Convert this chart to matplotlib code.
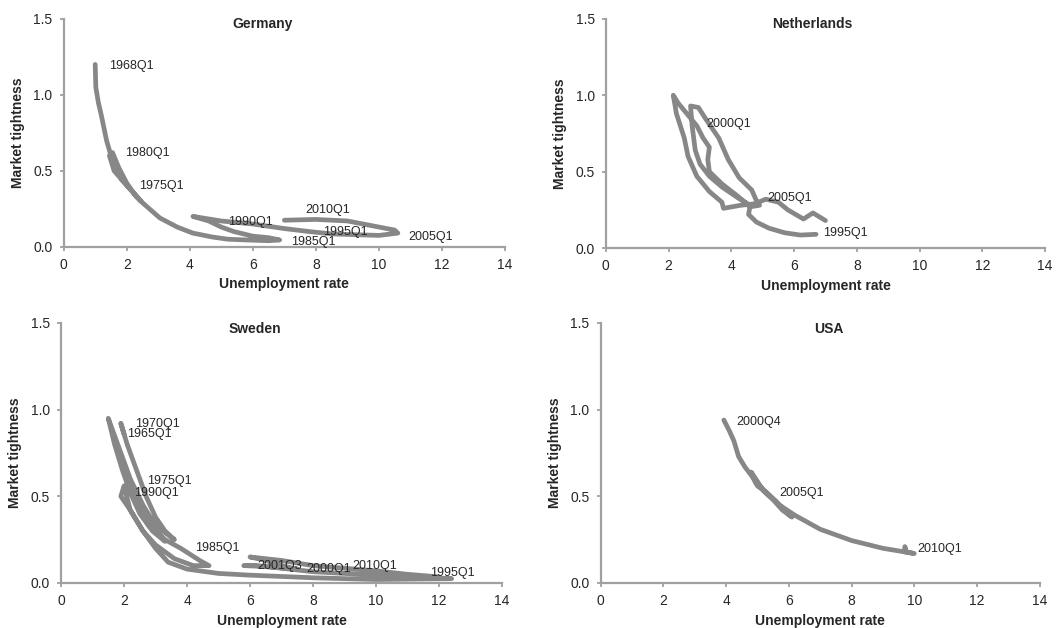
import numpy as np
import matplotlib.pyplot as plt

plt.rcParams['font.family'] = ['Liberation Sans', 'DejaVu Sans']

# unemployment rate (u) and market tightness (v)
de_u = [1.0, 1.02, 1.1, 1.2, 1.36, 1.5, 1.7, 1.85, 2.15, 2.45, 2.3, 2.0, 1.75, 1.55, 1.45,
        1.6, 1.85, 2.15, 2.5, 3.05, 3.6, 4.1, 4.7, 5.2, 5.8, 6.5, 6.85, 6.5, 6.0, 5.4, 5.0, 4.6, 4.1,
        5.0, 6.0, 7.0, 7.8, 8.5, 9.2, 10.0, 10.6, 10.5, 10.0, 9.0, 8.0, 7.0]
de_v = [1.2, 1.05, 0.95, 0.86, 0.7, 0.6, 0.5, 0.44, 0.37, 0.3, 0.33, 0.42, 0.52, 0.62, 0.6,
        0.5, 0.44, 0.37, 0.29, 0.19, 0.13, 0.09, 0.065, 0.05, 0.045, 0.04, 0.045, 0.06, 0.07, 0.1,
        0.13, 0.17, 0.2,
        0.17, 0.15, 0.12, 0.1, 0.085, 0.08, 0.075, 0.09, 0.11, 0.13, 0.17, 0.18, 0.175]

nl_u = [6.7, 6.2, 5.7, 5.2, 4.8, 4.55, 4.6, 4.2, 3.7, 3.3, 3.0, 2.85, 2.75, 2.7, 2.95, 3.2,
        3.6, 3.9, 4.25, 4.65, 4.8, 4.9, 4.6, 4.2, 3.7, 3.3, 3.25, 3.3, 3.1, 2.9, 2.7, 2.5, 2.3,
        2.15, 2.25, 2.5, 2.62, 2.9, 3.3, 3.7, 3.75, 4.3, 4.75, 5.1, 5.5, 5.8, 6.3, 6.6, 7.0]
nl_v = [0.09, 0.085, 0.1, 0.13, 0.17, 0.22, 0.28, 0.33, 0.4, 0.47, 0.55, 0.64, 0.8, 0.93, 0.92, 0.84,
        0.72, 0.58, 0.46, 0.38, 0.31, 0.28, 0.27, 0.34, 0.42, 0.5, 0.58, 0.66, 0.72, 0.8, 0.85, 0.9, 0.95,
        1.0, 0.88, 0.72, 0.6, 0.47, 0.37, 0.3, 0.26, 0.28, 0.29, 0.32, 0.3, 0.25, 0.19, 0.23, 0.18]

se_u = [2.0, 1.9, 2.1, 2.4, 2.7, 3.0, 3.3, 3.6, 3.0, 2.6, 2.2, 1.9, 1.7, 1.5,
        1.7, 1.95, 2.2, 2.5, 2.9, 3.3, 2.8, 2.4, 2.1,
        2.4, 2.8, 3.3, 3.8, 4.4, 4.7, 4.2, 3.6, 3.0, 2.6, 2.2, 1.9, 2.0,
        2.2, 2.6, 3.0, 3.4, 4.0, 5.0, 6.0, 8.0, 10.0, 12.4,
        11.0, 10.0, 9.0, 8.0, 7.0, 6.2, 5.8, 6.5, 7.5, 7.0, 6.5, 6.0,
        7.0, 8.0, 9.0, 10.0, 11.0, 12.0]
se_v = [0.86, 0.92, 0.8, 0.65, 0.5, 0.38, 0.3, 0.25, 0.33, 0.45, 0.6, 0.75, 0.85, 0.95,
        0.8, 0.65, 0.52, 0.4, 0.3, 0.24, 0.35, 0.48, 0.58,
        0.45, 0.33, 0.25, 0.2, 0.13, 0.1, 0.1, 0.14, 0.22, 0.3, 0.42, 0.5, 0.56,
        0.42, 0.3, 0.2, 0.12, 0.08, 0.055, 0.045, 0.03, 0.02, 0.025,
        0.035, 0.045, 0.055, 0.065, 0.085, 0.1, 0.1, 0.095, 0.08, 0.1, 0.13, 0.15,
        0.13, 0.1, 0.085, 0.07, 0.05, 0.035]

us_u = [3.93, 4.1, 4.25, 4.4, 4.6, 4.85, 5.0, 5.3, 5.6, 5.8, 6.1, 5.8, 5.5, 5.2, 4.95, 4.8,
        4.95, 5.3, 5.7, 6.2, 7.0, 8.0, 9.0, 10.0, 9.7, 9.7, 9.75]
us_v = [0.94, 0.88, 0.82, 0.73, 0.67, 0.61, 0.56, 0.52, 0.47, 0.43, 0.38, 0.42, 0.48, 0.53, 0.6, 0.64,
        0.58, 0.52, 0.45, 0.39, 0.31, 0.245, 0.2, 0.17, 0.18, 0.21, 0.18]

de_labels = [('1968Q1', 1.45, 1.19), ('1980Q1', 1.96, 0.62), ('1975Q1', 2.38, 0.40),
             ('1990Q1', 5.2, 0.16), ('2010Q1', 7.67, 0.24), ('1995Q1', 8.22, 0.10),
             ('1985Q1', 7.2, 0.03), ('2005Q1', 10.93, 0.065)]
nl_labels = [('2000Q1', 3.21, 0.81), ('2005Q1', 5.14, 0.33), ('1995Q1', 6.93, 0.10)]
se_labels = [('1970Q1', 2.36, 0.92), ('1965Q1', 2.1, 0.86), ('1975Q1', 2.73, 0.59),
             ('1990Q1', 2.33, 0.52), ('1985Q1', 4.24, 0.20), ('2001Q3', 6.24, 0.10),
             ('2000Q1', 7.79, 0.083), ('2010Q1', 9.24, 0.10), ('1995Q1', 11.7, 0.058)]
us_labels = [('2000Q4', 4.33, 0.93), ('2005Q1', 5.69, 0.52), ('2010Q1', 10.1, 0.196)]

panels = [
    ('Germany', de_u, de_v, de_labels, [0.060, 0.607, 0.416, 0.363], 0.45),
    ('Netherlands', nl_u, nl_v, nl_labels, [0.571, 0.605, 0.414, 0.365], 0.47),
    ('Sweden', se_u, se_v, se_labels, [0.0575, 0.0717, 0.4157, 0.414], 0.44),
    ('USA', us_u, us_v, us_labels, [0.566, 0.0717, 0.414, 0.414], 0.52),
]

line_col = '#878787'
axis_col = '#a0a0a0'
text_col = '#262626'

fig = plt.figure(figsize=(10.61, 6.28), dpi=100)

for title, u, v, labels, pos, tx in panels:
    ax = fig.add_axes(pos)
    ax.plot(u, v, color=line_col, lw=3.4, solid_capstyle='round',
            solid_joinstyle='round', clip_on=False)
    for txt, x, y in labels:
        ax.text(x, y, txt, fontsize=9, color=text_col, ha='left', va='center')
    ax.set_xlim(0, 14)
    ax.set_ylim(0, 1.5)
    ax.set_xticks(np.arange(0, 15, 2))
    ax.set_yticks([0.0, 0.5, 1.0, 1.5])
    ax.set_yticklabels(['0.0', '0.5', '1.0', '1.5'])
    for s in ['top', 'right']:
        ax.spines[s].set_visible(False)
    for s in ['left', 'bottom']:
        ax.spines[s].set_color(axis_col)
        ax.spines[s].set_linewidth(1.6)
    ax.tick_params(colors=axis_col, labelcolor=text_col, labelsize=10,
                   length=3, width=1.3, direction='out', pad=5)
    ax.set_xlabel('Unemployment rate', fontsize=10, fontweight='bold',
                  color=text_col, labelpad=4)
    ax.set_ylabel('Market tightness', fontsize=10, fontweight='bold',
                  color=text_col, labelpad=6)
    ax.text(tx, 0.978, title, transform=ax.transAxes, fontsize=10,
            fontweight='bold', color=text_col, ha='center', va='center')

fig.savefig('out.png', dpi=100)
